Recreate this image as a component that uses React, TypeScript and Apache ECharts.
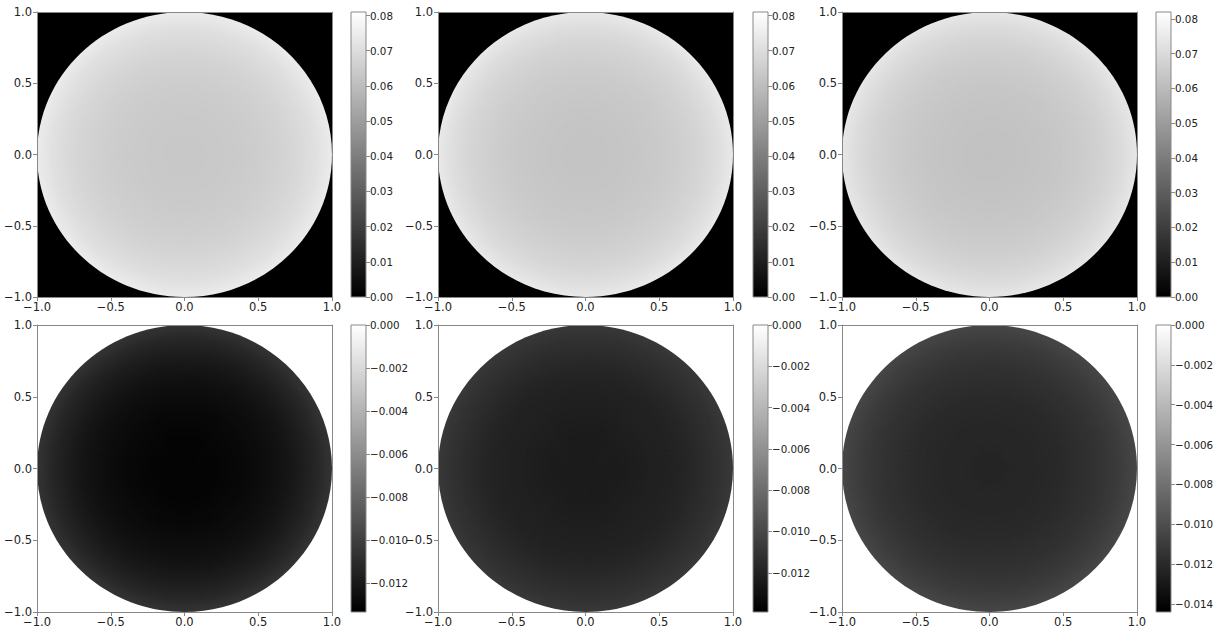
import React, { useEffect, useRef } from "react";
import * as echarts from "echarts";

// number of concentric rings used to paint each disk
const RING_N = 150;
// radial sample positions (fraction of the disk radius)
const RADII = [0, 0.1, 0.2, 0.3, 0.4, 0.5, 0.6, 0.7, 0.8, 0.9, 1.0];

// radial profiles
const TOP_LEFT_PROFILE = [0.0635, 0.0636, 0.0638, 0.0641, 0.0646, 0.0653, 0.0662, 0.0675, 0.0692, 0.0715, 0.0748];
const TOP_MID_PROFILE = [0.0622, 0.0623, 0.0625, 0.0629, 0.0634, 0.0641, 0.0651, 0.0664, 0.0681, 0.0705, 0.074];
const TOP_RIGHT_PROFILE = [0.0622, 0.0623, 0.0626, 0.063, 0.0635, 0.0642, 0.0652, 0.0665, 0.0683, 0.0707, 0.0742];
const BOTTOM_LEFT_PROFILE = [-0.0131, -0.0131, -0.0131, -0.013, -0.0129, -0.0127, -0.0125, -0.0122, -0.0118, -0.0113, -0.0106];
const BOTTOM_MID_PROFILE = [-0.0124, -0.0124, -0.0124, -0.0123, -0.0122, -0.0121, -0.012, -0.0118, -0.0115, -0.0112, -0.0108];
const BOTTOM_RIGHT_PROFILE = [-0.0123, -0.0123, -0.0122, -0.0122, -0.0121, -0.012, -0.0118, -0.0116, -0.0113, -0.0109, -0.0104];

// colour ranges of the colorbars
const TOP_LEFT_RANGE = [0, 0.081];
const TOP_MID_RANGE = [0, 0.081];
const TOP_RIGHT_RANGE = [0, 0.082];
const BOTTOM_LEFT_RANGE = [-0.01335, 0];
const BOTTOM_MID_RANGE = [-0.0139, 0];
const BOTTOM_RIGHT_RANGE = [-0.0144, 0];

// tick labels
const AXIS_TICKS = [-1, -0.5, 0, 0.5, 1];
const TOP_CB_TICKS = [0, 0.01, 0.02, 0.03, 0.04, 0.05, 0.06, 0.07, 0.08];
const BOTTOM_CB_TICKS = [0, -0.002, -0.004, -0.006, -0.008, -0.01, -0.012];
const BOTTOM_RIGHT_CB_TICKS = [0, -0.002, -0.004, -0.006, -0.008, -0.01, -0.012, -0.014];

const CB_LEVELS = 256;

const GRAY = "#888888";
const TEXT = "#222222";
const FONT = "DejaVu Sans";
const AXIS_FONT = 11.5;
const CB_FONT = 10.3;

function fmt(v: number, d: number) {
  const s = Math.abs(v).toFixed(d);
  return (v < -1e-12 ? "\u2212" : "") + s;
}

function profileAt(profile: number[], r: number) {
  for (let i = 0; i < RADII.length - 1; i++) {
    if (r <= RADII[i + 1]) {
      const t = (r - RADII[i]) / (RADII[i + 1] - RADII[i]);
      return profile[i] + t * (profile[i + 1] - profile[i]);
    }
  }
  return profile[profile.length - 1];
}

// rings from outside in: [outer radius, value]
function ringData(profile: number[]) {
  const out: number[][] = [];
  for (let k = RING_N; k >= 1; k--) {
    const rOuter = k / RING_N;
    out.push([rOuter, profileAt(profile, (k - 0.5) / RING_N)]);
  }
  return out;
}

// colorbar levels from the top down: [upper fraction, value]
function colorbarData(range: number[]) {
  const out: number[][] = [];
  for (let k = CB_LEVELS - 1; k >= 0; k--) {
    out.push([(k + 1) / CB_LEVELS, range[0] + ((k + 0.5) / CB_LEVELS) * (range[1] - range[0])]);
  }
  return out;
}

const PANELS = [
  { profile: TOP_LEFT_PROFILE, range: TOP_LEFT_RANGE, ticks: TOP_CB_TICKS, digits: 2, left: 37, top: 12, height: 285, cbLeft: 351, bg: "#000000" },
  { profile: TOP_MID_PROFILE, range: TOP_MID_RANGE, ticks: TOP_CB_TICKS, digits: 2, left: 438, top: 12, height: 285, cbLeft: 753, bg: "#000000" },
  { profile: TOP_RIGHT_PROFILE, range: TOP_RIGHT_RANGE, ticks: TOP_CB_TICKS, digits: 2, left: 842, top: 12, height: 285, cbLeft: 1156, bg: "#000000" },
  { profile: BOTTOM_LEFT_PROFILE, range: BOTTOM_LEFT_RANGE, ticks: BOTTOM_CB_TICKS, digits: 3, left: 37, top: 325, height: 287, cbLeft: 351, bg: "#ffffff" },
  { profile: BOTTOM_MID_PROFILE, range: BOTTOM_MID_RANGE, ticks: BOTTOM_CB_TICKS, digits: 3, left: 438, top: 325, height: 287, cbLeft: 753, bg: "#ffffff" },
  { profile: BOTTOM_RIGHT_PROFILE, range: BOTTOM_RIGHT_RANGE, ticks: BOTTOM_RIGHT_CB_TICKS, digits: 3, left: 842, top: 325, height: 287, cbLeft: 1156, bg: "#ffffff" },
];

function buildOption() {
  const grid: any[] = [];
  const xAxis: any[] = [];
  const yAxis: any[] = [];
  const series: any[] = [];
  const visualMap: any[] = [];
  const axisLabel = { fontFamily: FONT, fontSize: AXIS_FONT, color: TEXT };
  const cbLabel = { fontFamily: FONT, fontSize: CB_FONT, color: TEXT };
  const lineOnly = {
    axisLine: { show: true, onZero: false, lineStyle: { color: GRAY, width: 1 } },
    axisTick: { show: false }, axisLabel: { show: false }, splitLine: { show: false },
  };

  PANELS.forEach((p) => {
    const gMain = grid.length;
    grid.push({ left: p.left, top: p.top, width: 295, height: p.height, show: true, backgroundColor: p.bg, borderWidth: 0 });
    const gCb = grid.length;
    grid.push({ left: p.cbLeft, top: p.top, width: 15, height: p.height, show: true, backgroundColor: "rgba(0,0,0,0)", borderColor: GRAY, borderWidth: 1, z: 6 });

    // main panel axes
    const xMain = xAxis.length;
    xAxis.push({
      type: "value", gridIndex: gMain, position: "bottom", min: -1, max: 1, z: 5,
      axisLine: { show: true, onZero: false, lineStyle: { color: GRAY, width: 1 } },
      axisTick: { show: true, length: 4, lineStyle: { color: GRAY }, customValues: AXIS_TICKS },
      axisLabel: { ...axisLabel, margin: 4, customValues: AXIS_TICKS, formatter: (v: number) => fmt(v, 1) },
      splitLine: { show: false },
    });
    xAxis.push({ type: "value", gridIndex: gMain, position: "top", min: -1, max: 1, z: 5, ...lineOnly });
    const yMain = yAxis.length;
    yAxis.push({
      type: "value", gridIndex: gMain, position: "left", min: -1, max: 1, z: 5,
      axisLine: { show: true, onZero: false, lineStyle: { color: GRAY, width: 1 } },
      axisTick: { show: true, length: 4, lineStyle: { color: GRAY }, customValues: AXIS_TICKS },
      axisLabel: { ...axisLabel, margin: 5, customValues: AXIS_TICKS, formatter: (v: number) => fmt(v, 1) },
      splitLine: { show: false },
    });
    yAxis.push({ type: "value", gridIndex: gMain, position: "right", min: -1, max: 1, z: 5, ...lineOnly });

    // colorbar axes
    const xCb = xAxis.length;
    xAxis.push({ type: "value", gridIndex: gCb, min: 0, max: 1, show: false });
    const yCb = yAxis.length;
    yAxis.push({
      type: "value", gridIndex: gCb, position: "right", min: p.range[0], max: p.range[1], z: 7,
      axisLine: { show: false, onZero: false },
      axisTick: { show: true, length: 4, lineStyle: { color: GRAY }, customValues: p.ticks },
      axisLabel: { ...cbLabel, margin: 4, customValues: p.ticks, formatter: (v: number) => fmt(v, p.digits) },
      splitLine: { show: false },
    });

    const sMain = series.length;
    series.push({
      type: "custom", xAxisIndex: xMain, yAxisIndex: yMain, silent: true,
      data: ringData(p.profile),
      dimensions: ["r", "value"],
      encode: { x: -1, y: -1 },
      clip: true,
      renderItem: (params: any, api: any) => {
        const r = api.value(0);
        const c = api.coord([0, 0]);
        const rx = api.size([r, 0])[0];
        const ry = api.size([0, r])[1];
        return {
          type: "ellipse", z2: params.dataIndex,
          shape: { cx: c[0], cy: c[1], rx, ry },
          style: { fill: api.visual("color"), stroke: null },
        };
      },
    });
    const sCb = series.length;
    const span = p.range[1] - p.range[0];
    series.push({
      type: "custom", xAxisIndex: xCb, yAxisIndex: yCb, silent: true,
      data: colorbarData(p.range),
      dimensions: ["top", "value"],
      encode: { x: -1, y: -1 },
      renderItem: (params: any, api: any) => {
        const top = api.coord([0, p.range[0] + api.value(0) * span]);
        const bottom = api.coord([1, p.range[0]]);
        return {
          type: "rect", z2: params.dataIndex,
          shape: { x: top[0], y: top[1], width: bottom[0] - top[0], height: bottom[1] - top[1] },
          style: { fill: api.visual("color"), stroke: null },
        };
      },
    });
    visualMap.push({
      type: "continuous", show: false, min: p.range[0], max: p.range[1], dimension: 1,
      seriesIndex: [sMain, sCb], inRange: { color: ["#000000", "#ffffff"] },
    });
  });

  return { animation: false, backgroundColor: "#ffffff", grid, xAxis, yAxis, series, visualMap };
}

export default function App() {
  const ref = useRef<HTMLDivElement>(null);
  useEffect(() => {
    if (!ref.current) return;
    const chart = echarts.init(ref.current, undefined, { renderer: "svg" });
    chart.setOption(buildOption() as any);
    return () => chart.dispose();
  }, []);
  return <div ref={ref} style={{ position: "fixed", left: 0, top: 0, width: 1222, height: 630 }} />;
}
